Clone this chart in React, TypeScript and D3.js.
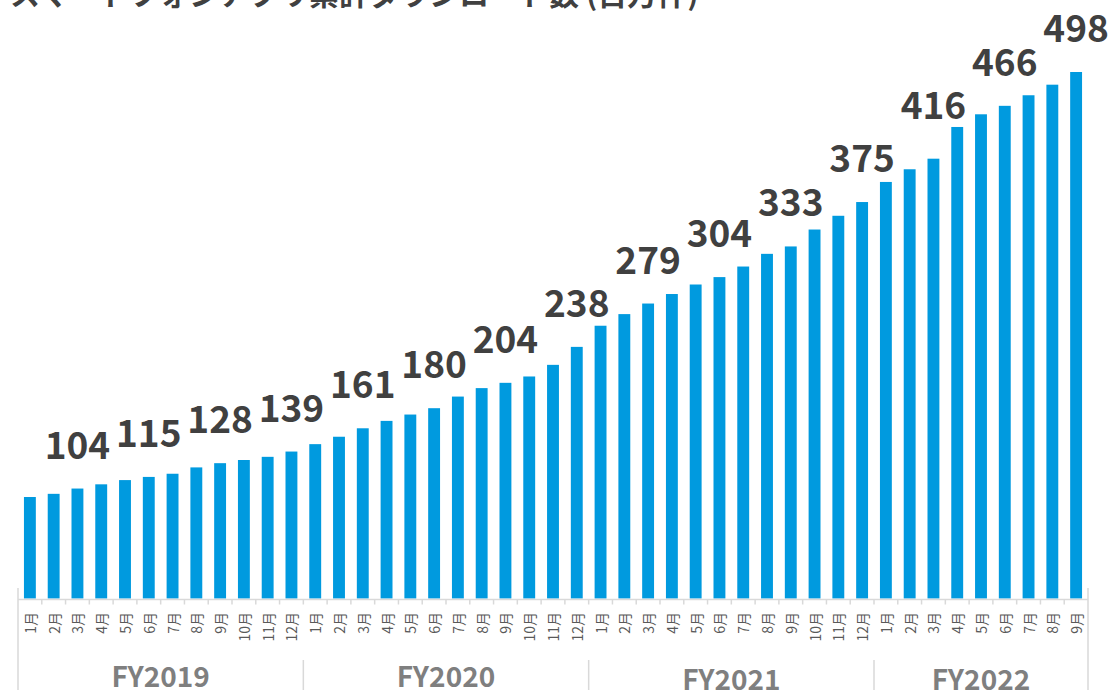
import React from "react";
import * as d3 from "d3";

const title = "スマートフォンアプリ累計ダウンロード数 (百万件)";
const fiscalYears = ["FY2019", "FY2020", "FY2021", "FY2022"];
const monthsPerYear = [12, 12, 12, 9];
const monthNames = ["1月", "2月", "3月", "4月", "5月", "6月", "7月", "8月", "9月", "10月", "11月", "12月"];
const downloads = [
  96, 99, 104, 108, 112, 115, 118, 124, 128, 131, 134, 139,
  146, 153, 161, 168, 174, 180, 191, 199, 204, 210, 221, 238,
  258, 269, 279, 288, 297, 304, 314, 326, 333, 349, 362, 375,
  394, 406, 416, 446, 458, 466, 476, 486, 498,
];

const W = 1112;
const H = 690;
const FONT = "'Noto Sans CJK JP', 'Noto Sans', sans-serif";
const BAR = "#009ADF";
const AXIS = "#D9D9D9";
// extra vertical nudge (px) for individual data labels, as placed in the original
const LABEL_NUDGE: Record<number, number> = { 38: -10 };

export default function App() {
  const cats: { fy: string; month: string; i: number }[] = [];
  fiscalYears.forEach((fy, g) => {
    for (let m = 0; m < monthsPerYear[g]; m++) {
      cats.push({ fy, month: monthNames[m], i: cats.length });
    }
  });

  const left = 18;
  const right = 1088;
  const base = 598.5;
  const x = d3
    .scaleBand<number>()
    .domain(cats.map((c) => c.i))
    .range([left, right])
    .paddingInner(0.5)
    .paddingOuter(0.25);
  const step = x.step();
  const y = d3.scaleLinear().domain([0, 600]).range([base, base - 600 * (526.5 / 498)]);

  const bounds: number[] = [];
  let acc = 0;
  monthsPerYear.forEach((n) => {
    acc += n;
    bounds.push(acc);
  });
  const slotLeft = (i: number) => left + step * i;

  return (
    <svg
      width={W}
      height={H}
      style={{ position: "absolute", left: 0, top: 0, background: "#fff" }}
      fontFamily={FONT}
    >
      <rect x={0} y={0} width={W} height={H} fill="#fff" />
      <text x={10} y={5} fontSize={30} fontWeight={700} fill="#404040">
        {title}
      </text>

      {cats.map((c) => (
        <rect
          key={"b" + c.i}
          x={x(c.i)}
          y={y(downloads[c.i])}
          width={x.bandwidth()}
          height={base - y(downloads[c.i])}
          fill={BAR}
        />
      ))}

      {cats
        .filter((c) => c.i % 3 === 2)
        .map((c) => (
          <text
            key={"l" + c.i}
            x={(x(c.i) as number) + x.bandwidth() / 2}
            y={y(downloads[c.i]) - 30 + (LABEL_NUDGE[c.i] || 0)}
            textAnchor="middle"
            fontSize={37}
            fontWeight={700}
            fill="#404040"
          >
            {downloads[c.i]}
          </text>
        ))}

      <line x1={left} x2={right} y1={599.5} y2={599.5} stroke={AXIS} strokeWidth={1.5} />
      {cats.map((c) =>
        c.i === 0 ? null : (
          <line
            key={"t" + c.i}
            x1={slotLeft(c.i)}
            x2={slotLeft(c.i)}
            y1={599.5}
            y2={604.5}
            stroke={AXIS}
            strokeWidth={1.5}
          />
        )
      )}
      <line x1={left} x2={left} y1={588} y2={H} stroke={AXIS} strokeWidth={1.5} />
      <line x1={right} x2={right} y1={588} y2={H} stroke={AXIS} strokeWidth={1.5} />
      {bounds.slice(0, -1).map((b) => (
        <line
          key={"g" + b}
          x1={slotLeft(b)}
          x2={slotLeft(b)}
          y1={660}
          y2={H}
          stroke={AXIS}
          strokeWidth={1.5}
        />
      ))}

      {cats.map((c) => {
        const cx = (x(c.i) as number) + x.bandwidth() / 2;
        return (
          <text
            key={"m" + c.i}
            transform={`translate(${cx},612) rotate(-90)`}
            textAnchor="end"
            dominantBaseline="central"
            fontSize={14}
            fill="#595959"
          >
            {c.month}
          </text>
        );
      })}

      {fiscalYears.map((fy, g) => {
        const start = g === 0 ? 0 : bounds[g - 1];
        const end = bounds[g];
        const cx = (slotLeft(start) + (g === fiscalYears.length - 1 ? right : slotLeft(end))) / 2;
        return (
          <text
            key={fy}
            x={cx}
            y={g < 2 ? 687 : 690}
            textAnchor="middle"
            fontSize={28}
            fontWeight={700}
            fill="#7F7F7F"
          >
            {fy}
          </text>
        );
      })}
    </svg>
  );
}
